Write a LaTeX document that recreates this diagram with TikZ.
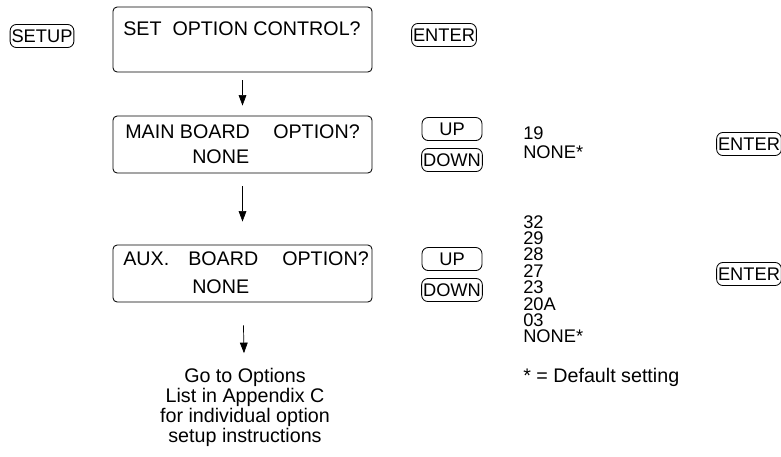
\documentclass[tikz,border=0pt]{standalone}
\usepackage{fontspec}
\setmainfont{Liberation Sans}
\usetikzlibrary{arrows.meta}

\tikzset{
  display/.style={draw, rounded corners=3pt, line width=0.6pt, inner sep=0pt},
  keycap/.style={draw, rounded corners=4.5pt, line width=0.6pt, inner xsep=1pt, inner ysep=0pt,
    minimum height=16.4pt, minimum width=42.7pt, font=\fontsize{13}{14}\selectfont},
  lcd/.style={font=\fontsize{14}{16}\selectfont, inner sep=0pt, anchor=base west},
  listtxt/.style={font=\fontsize{13}{14}\selectfont, inner sep=0pt, anchor=base west},
  flow/.style={-{Triangle[width=5.5pt,length=7.5pt]}, line width=0.5pt},
}

\begin{document}
\begin{tikzpicture}[x=0.025cm, y=-0.025cm]
  \useasboundingbox (0,0) rectangle (781,456);

  % displays
  \node[display, minimum width=6.475cm, minimum height=1.625cm] (ctrl) at (242.5,39.5) {};
  \node[display, minimum width=6.475cm, minimum height=1.425cm] (main) at (242.5,144.5) {};
  \node[display, minimum width=6.475cm, minimum height=1.425cm] (aux) at (242.5,273.5) {};

  \node[lcd] (ctrltxt) at (123,35) {SET\ \ OPTION CONTROL?};
  \node[lcd] (mainhead) at (125,138) {MAIN BOARD};
  \node[lcd] (mainopt) at (273,138) {OPTION?};
  \node[lcd] (mainval) at (192,163) {NONE};
  \node[lcd] (auxhead) at (123,265) {AUX.};
  \node[lcd] (auxboard) at (188,265) {BOARD};
  \node[lcd] (auxopt) at (282,265) {OPTION?};
  \node[lcd] (auxval) at (192,293) {NONE};

  % keys
  \node[keycap] (setup) at (42,36) {SETUP};
  \node[keycap] (enter1) at (444,35) {ENTER};
  \node[keycap] (up1) at (452,129) {UP};
  \node[keycap] (down1) at (452,160) {DOWN};
  \node[keycap] (up2) at (452,259) {UP};
  \node[keycap] (down2) at (452,290) {DOWN};
  \node[keycap] (enter2) at (749,144) {ENTER};
  \node[keycap] (enter3) at (749,274) {ENTER};

  % choices
  \node[listtxt] (main19) at (523,139) {19};
  \node[listtxt] (mainnone) at (523,158) {NONE*};
  \foreach \v [count=\i] in {32,29,28,27,23,20A,03,NONE*}
    \node[listtxt] (aux\i) at (523,{228+16.4*(\i-1)}) {\v};
  \node[lcd] (note) at (523,382) {* = Default setting};

  \node[align=center, font=\fontsize{14}{14.2}\selectfont, inner sep=0pt, anchor=north] (goto)
    at (245,368) {Go to Options\\List in Appendix C\\for individual option\\setup instructions};

  % flow
  \draw[flow, shorten <=0.2cm, shorten >=0.25cm] (ctrl) -- (main);
  \draw[flow, shorten <=0.325cm, shorten >=0.575cm] (main) -- (aux);
  \draw[flow, shorten <=0.575cm, shorten >=0.37cm] (aux) -- (goto);
\end{tikzpicture}
\end{document}
